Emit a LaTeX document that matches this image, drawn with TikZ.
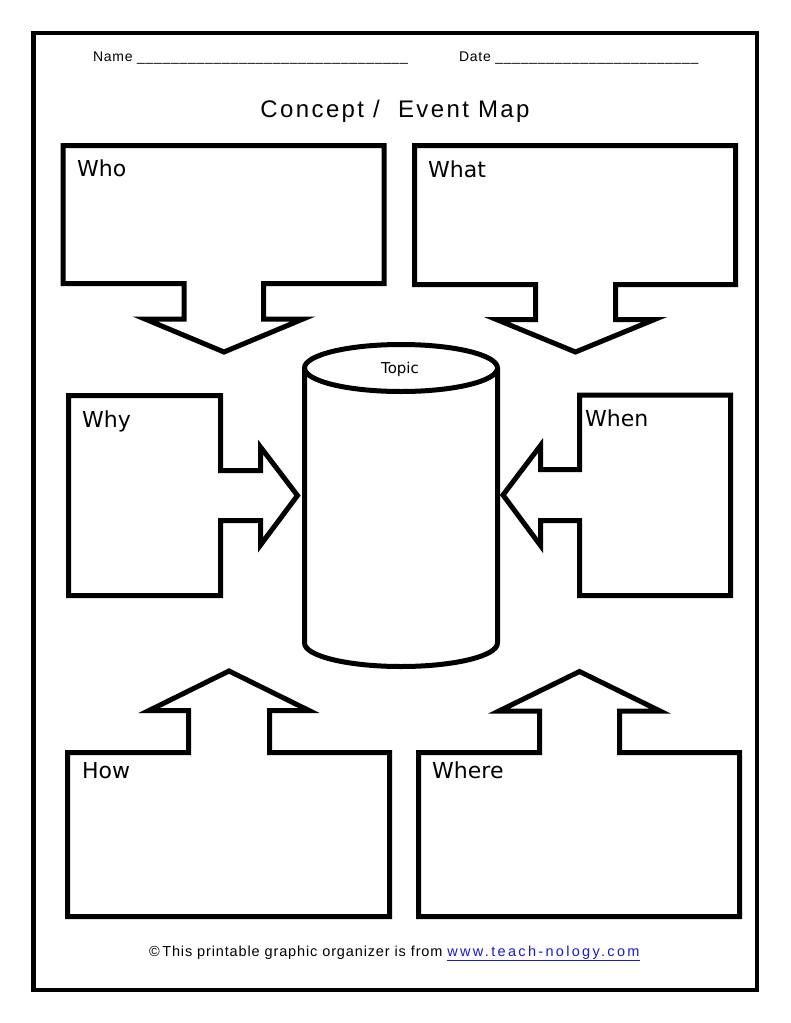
\documentclass[tikz,border=0pt]{standalone}
\usepackage{fontspec}
\setmainfont{DejaVu Sans}
\newfontfamily\headfont[LetterSpace=5]{Liberation Sans}
\newfontfamily\titlefont[LetterSpace=10]{Liberation Sans}
\newfontfamily\footfont[LetterSpace=6]{Liberation Sans}
\newfontfamily\linkfont[LetterSpace=16]{Liberation Sans}
\usepackage{tikz}
\definecolor{LinkBlue}{HTML}{1A1ACC}
\tikzset{
  frame/.style={draw, line width=4.5pt},
  organizer/.style={draw, line width=5pt, line join=miter, miter limit=10},
  boxlabel/.style={anchor=base west, inner sep=0pt, font=\fontsize{22}{26}\selectfont},
  topiclabel/.style={inner sep=0pt, font=\fontsize{15}{18}\selectfont},
  headline/.style={anchor=base west, inner sep=0pt, font=\headfont\fontsize{14}{17}\selectfont},
  footline/.style={anchor=base west, inner sep=0pt, font=\footfont\fontsize{14.5}{17}\selectfont}
}

\begin{document}
\begin{tikzpicture}[x=1pt, y=1pt]
  \useasboundingbox (0,0) rectangle (791,-1023);
  \draw[frame] (33.5,-33) rectangle (757,-990);

  \node[headline] (name) at (93,-61.5) {Name \_\_\_\_\_\_\_\_\_\_\_\_\_\_\_\_\_\_\_\_\_\_\_\_\_\_\_\_\_\_\_\_};
  \node[headline] (date) at (459,-61.5) {Date \_\_\_\_\_\_\_\_\_\_\_\_\_\_\_\_\_\_\_\_\_\_\_\_};
  \node[inner sep=0pt, anchor=base, font=\titlefont\fontsize{24}{29}\selectfont] (title) at (395,-117) {Concept /\ \ Event Map};

  % who and what point down
  \draw[organizer] (63,-145.5) -- (384,-145.5) -- (384,-283.5) -- (263.5,-283.5) -- (263.5,-319)
    -- (303,-319) -- (224,-352) -- (145,-319) -- (184,-319) -- (184,-283.5) -- (63,-283.5) -- cycle;
  \draw[organizer] (414.5,-145.5) -- (735.5,-145.5) -- (735.5,-284.5) -- (615.5,-284.5) -- (615.5,-319.5)
    -- (654.5,-319.5) -- (575.5,-352) -- (496.5,-319.5) -- (535.5,-319.5) -- (535.5,-284.5) -- (414.5,-284.5) -- cycle;

  % why and when point to the topic
  \draw[organizer] (68.5,-395.5) -- (220.5,-395.5) -- (220.5,-470.5) -- (260.5,-470.5) -- (260.5,-447)
    -- (297.5,-495.5) -- (260.5,-545) -- (260.5,-520.5) -- (220.5,-520.5) -- (220.5,-595.5) -- (68.5,-595.5) -- cycle;
  \draw[organizer] (579.5,-395) -- (730.5,-395) -- (730.5,-595.5) -- (579.5,-595.5) -- (579.5,-520.5)
    -- (540.5,-520.5) -- (540.5,-545.5) -- (503,-495) -- (540.5,-445.5) -- (540.5,-469.5) -- (579.5,-469.5) -- cycle;

  % how and where point up
  \draw[organizer] (67.5,-752.5) -- (188.5,-752.5) -- (188.5,-710.5) -- (149,-710.5) -- (229,-671)
    -- (309,-710.5) -- (269.5,-710.5) -- (269.5,-752.5) -- (389.5,-752.5) -- (389.5,-916.5) -- (67.5,-916.5) -- cycle;
  \draw[organizer] (418.5,-752.5) -- (539.5,-752.5) -- (539.5,-711) -- (499,-711) -- (579.5,-671.5)
    -- (660,-711) -- (619.5,-711) -- (619.5,-752.5) -- (739.5,-752.5) -- (739.5,-916.5) -- (418.5,-916.5) -- cycle;

  % topic cylinder
  \draw[organizer] (401,-368) ellipse[x radius=96.5, y radius=23.5];
  \draw[organizer, line join=round] (304.5,-368) -- (304.5,-643)
    arc[start angle=180, end angle=360, x radius=96.5, y radius=23.5] -- (497.5,-368);

  \node[boxlabel] (who) at (77,-176) {Who};
  \node[boxlabel] (what) at (428,-177) {What};
  \node[boxlabel] (why) at (82,-427) {Why};
  \node[boxlabel] (when) at (585,-426) {When};
  \node[boxlabel] (how) at (82,-778) {How};
  \node[boxlabel] (where) at (432,-778) {Where};
  \node[topiclabel] (topic) at (400,-369.5) {Topic};

  \node[footline] (credit) at (149,-956) {©\,This printable graphic organizer is from\ 
    {\linkfont\color{LinkBlue}\underline{www.teach-nology.com}}};
\end{tikzpicture}
\end{document}
